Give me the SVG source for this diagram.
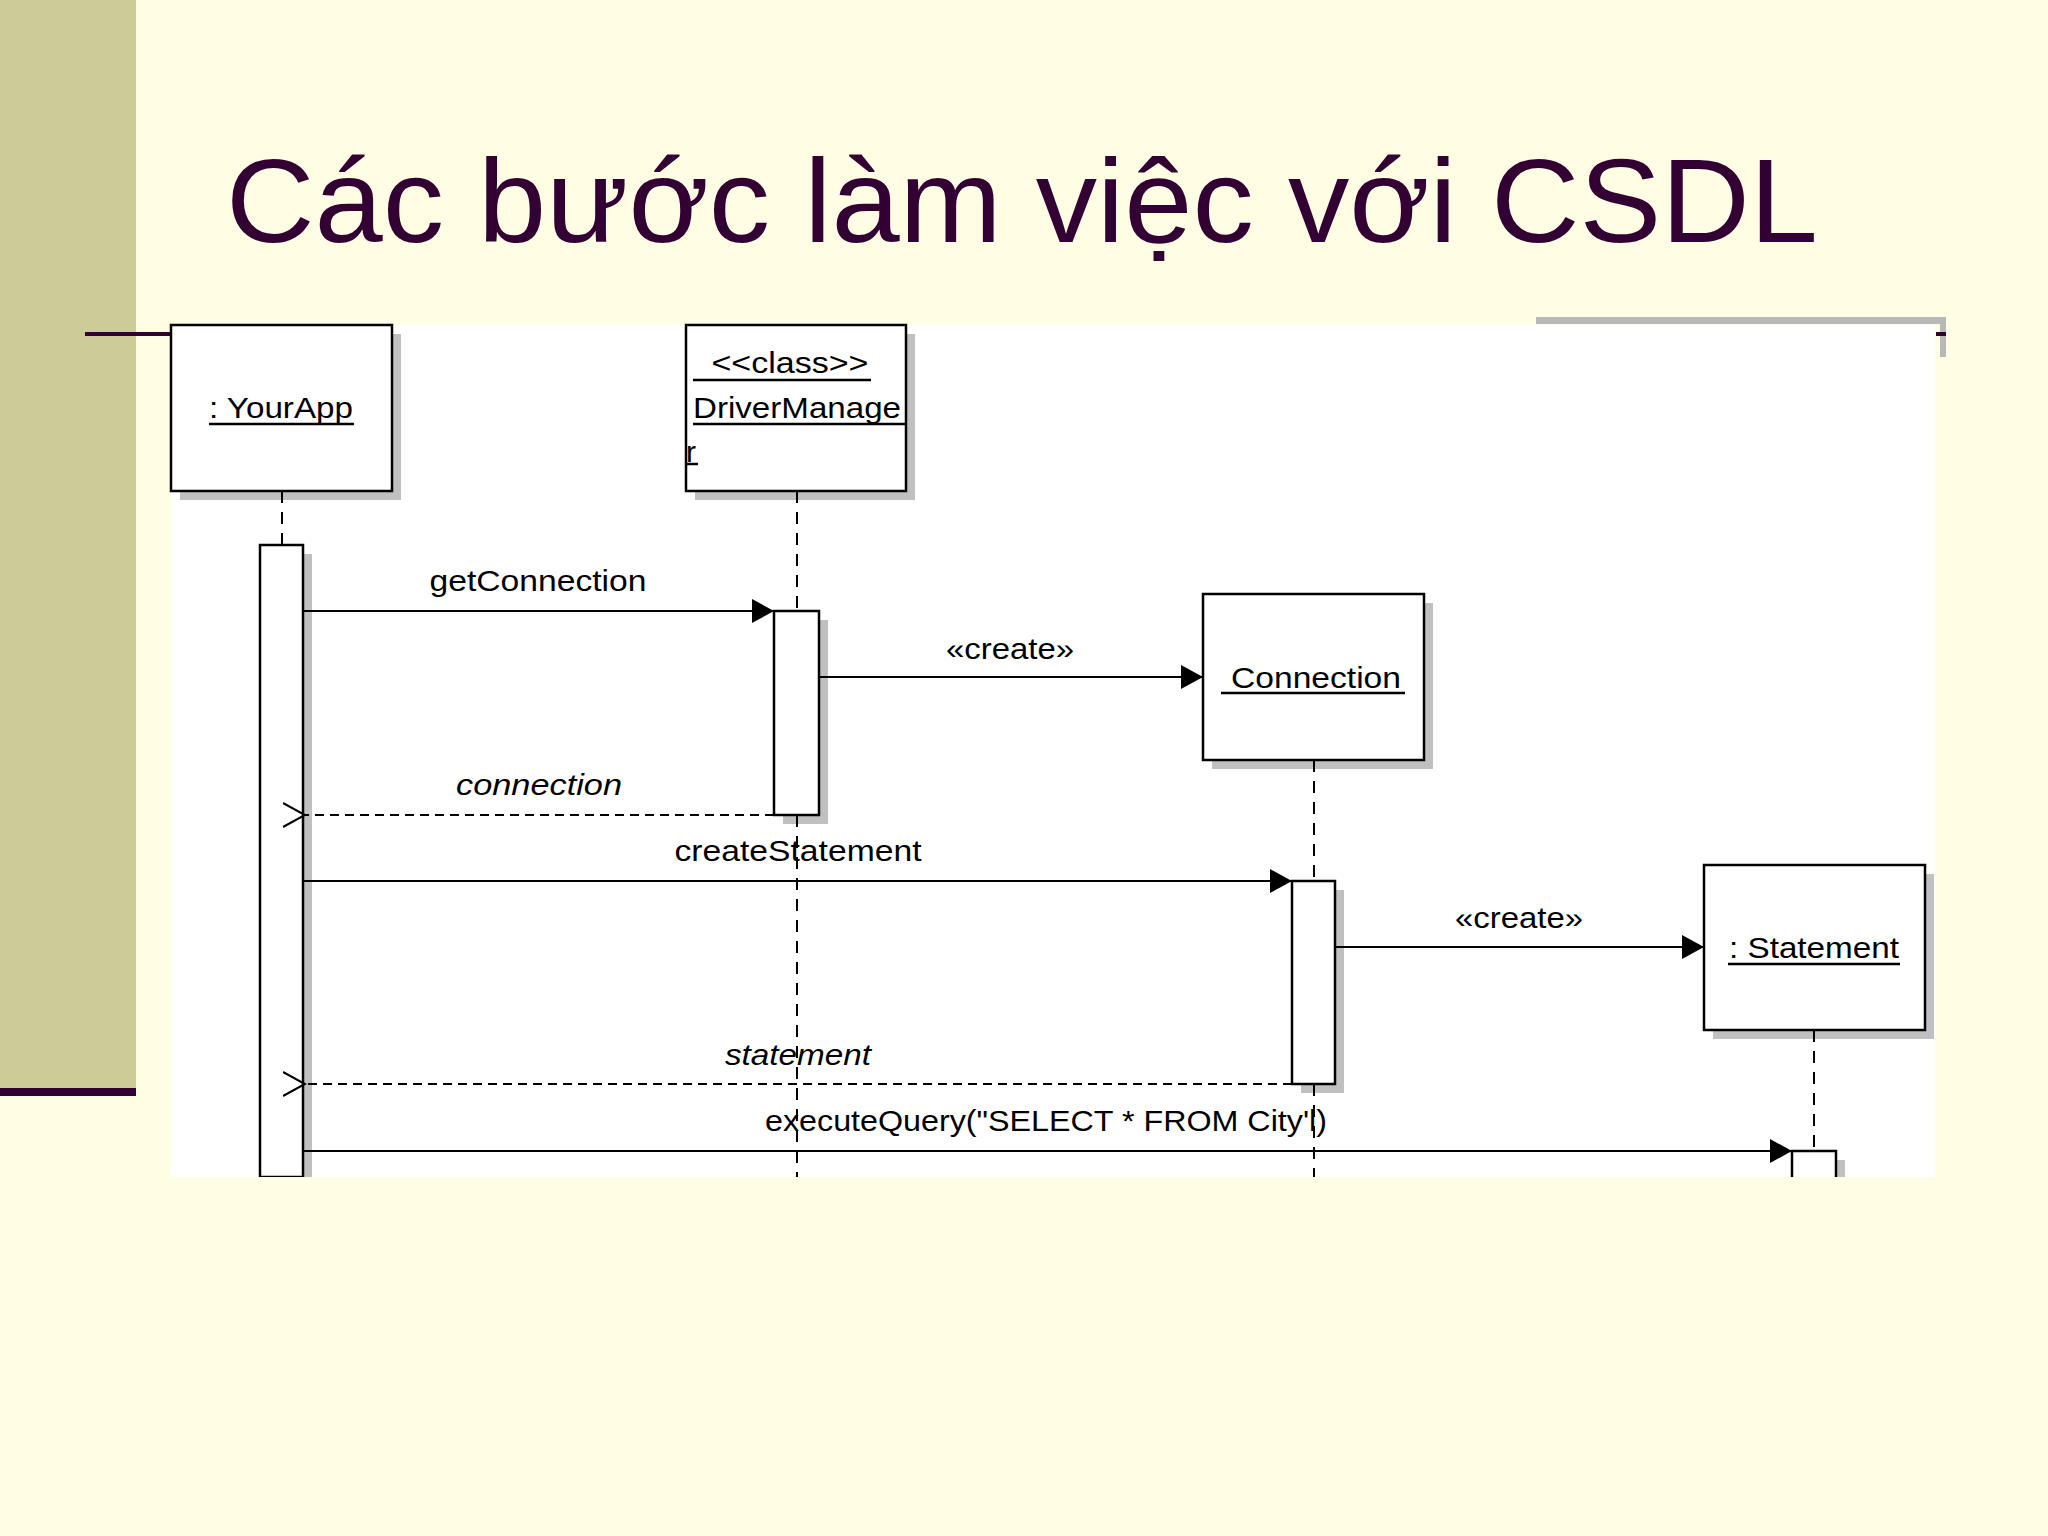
<svg xmlns="http://www.w3.org/2000/svg" width="2048" height="1536" viewBox="0 0 2048 1536">
<defs>
<style>
.box{fill:#fff;stroke:#000;stroke-width:2.5}
.sh{fill:#c0c0c0}
.t{font-family:"Liberation Sans",Arial,sans-serif;font-size:30px;fill:#000}
.life{stroke:#000;stroke-width:2;stroke-dasharray:12,9;fill:none}
.msg{stroke:#000;stroke-width:2.2;fill:none}
.ret{stroke:#000;stroke-width:2;stroke-dasharray:9,6;fill:none}
.ul{stroke:#000;stroke-width:2.5}
</style>
<marker id="fa" markerWidth="24" markerHeight="24" refX="22" refY="12" orient="auto" markerUnits="userSpaceOnUse"><path d="M0,0 L22,12 L0,24 Z" fill="#000"/></marker>
<marker id="oa" markerWidth="24" markerHeight="28" refX="2" refY="14" orient="auto" markerUnits="userSpaceOnUse"><path d="M24,2 L2,14 L24,26" fill="none" stroke="#000" stroke-width="2"/></marker>
</defs>
<rect width="2048" height="1536" fill="#fffde3"/>
<rect x="0" y="0" width="136" height="1088" fill="#cccc99"/>
<rect x="0" y="1088" width="136" height="8" fill="#330033"/>
<text x="226" y="242" font-family="Liberation Sans,Arial,sans-serif" font-size="118" fill="#330033" textLength="1592" lengthAdjust="spacingAndGlyphs">Các bước làm việc với CSDL</text>
<line x1="85" y1="334" x2="175" y2="334" stroke="#330033" stroke-width="4"/>
<rect x="1536" y="317" width="410" height="7" fill="#b8b8b8"/>
<rect x="1940" y="317" width="6" height="40" fill="#b8b8b8"/>
<rect x="1936" y="332" width="10" height="4" fill="#330033"/>
<rect x="171" y="325" width="1764" height="852" fill="#fff"/>

<g id="yourapp">
<rect class="sh" x="180" y="334" width="221" height="166"/>
<rect class="box" x="171" y="325" width="221" height="166"/>
<text class="t" x="281" y="418" text-anchor="middle" textLength="144" lengthAdjust="spacingAndGlyphs">: YourApp</text>
<line class="ul" x1="209" y1="424" x2="354" y2="424"/>
</g>
<g id="yourapp-activation">
<rect class="sh" x="269" y="554" width="43" height="623"/>
<rect class="box" x="260" y="545" width="43" height="632"/>
</g>

<g id="drivermanager">
<rect class="sh" x="695" y="334" width="220" height="166"/>
<rect class="box" x="686" y="325" width="220" height="166"/>
<text class="t" x="790" y="373" text-anchor="middle" textLength="157" lengthAdjust="spacingAndGlyphs">&lt;&lt;class&gt;&gt;</text>
<line class="ul" x1="693" y1="380" x2="871" y2="380"/>
<text class="t" x="693" y="418" textLength="208" lengthAdjust="spacingAndGlyphs">DriverManage</text>
<line class="ul" x1="693" y1="424" x2="906" y2="424"/>
<text class="t" x="686" y="462">r</text>
<line class="ul" x1="686" y1="464" x2="698" y2="464"/>
</g>
<g id="drivermanager-activation">
<rect class="sh" x="783" y="620" width="45" height="204"/>
<rect class="box" x="774" y="611" width="45" height="204"/>
</g>

<g id="connection">
<rect class="sh" x="1212" y="603" width="221" height="166"/>
<rect class="box" x="1203" y="594" width="221" height="166"/>
<text class="t" x="1316" y="688" text-anchor="middle" textLength="170" lengthAdjust="spacingAndGlyphs">Connection</text>
<line class="ul" x1="1221" y1="693" x2="1405" y2="693"/>
</g>
<g id="connection-activation">
<rect class="sh" x="1301" y="890" width="43" height="203"/>
<rect class="box" x="1292" y="881" width="43" height="203"/>
</g>

<g id="statement">
<rect class="sh" x="1713" y="874" width="221" height="165"/>
<rect class="box" x="1704" y="865" width="221" height="165"/>
<text class="t" x="1814" y="958" text-anchor="middle" textLength="170" lengthAdjust="spacingAndGlyphs">: Statement</text>
<line class="ul" x1="1728" y1="964" x2="1900" y2="964"/>
</g>
<g id="statement-activation">
<rect class="sh" x="1801" y="1160" width="44" height="17"/>
<rect class="box" x="1792" y="1151" width="44" height="30"/>
</g>

<g id="connectors">
<line class="life" x1="282" y1="491" x2="282" y2="545"/>
<line class="life" x1="797" y1="491" x2="797" y2="611"/>
<line class="life" x1="797" y1="815" x2="797" y2="1177"/>
<line class="life" x1="1314" y1="760" x2="1314" y2="881"/>
<line class="life" x1="1314" y1="1084" x2="1314" y2="1177"/>
<line class="life" x1="1814" y1="1030" x2="1814" y2="1151"/>
<line class="msg" x1="303" y1="611" x2="774" y2="611" marker-end="url(#fa)"/>
<text class="t" x="538" y="591" text-anchor="middle" textLength="217" lengthAdjust="spacingAndGlyphs">getConnection</text>
<line class="msg" x1="819" y1="677" x2="1203" y2="677" marker-end="url(#fa)"/>
<text class="t" x="1010" y="659" text-anchor="middle" textLength="128" lengthAdjust="spacingAndGlyphs">«create»</text>
<line class="ret" x1="774" y1="815" x2="305" y2="815" marker-end="url(#oa)"/>
<text class="t" x="539" y="795" text-anchor="middle" font-style="italic" textLength="166" lengthAdjust="spacingAndGlyphs">connection</text>
<line class="msg" x1="303" y1="881" x2="1292" y2="881" marker-end="url(#fa)"/>
<text class="t" x="798" y="861" text-anchor="middle" textLength="247" lengthAdjust="spacingAndGlyphs">createStatement</text>
<line class="msg" x1="1335" y1="947" x2="1704" y2="947" marker-end="url(#fa)"/>
<text class="t" x="1519" y="928" text-anchor="middle" textLength="128" lengthAdjust="spacingAndGlyphs">«create»</text>
<line class="ret" x1="1292" y1="1084" x2="305" y2="1084" marker-end="url(#oa)"/>
<text class="t" x="798" y="1065" text-anchor="middle" font-style="italic" textLength="146" lengthAdjust="spacingAndGlyphs">statement</text>
<line class="msg" x1="303" y1="1151" x2="1792" y2="1151" marker-end="url(#fa)"/>
<text class="t" x="1046" y="1131" text-anchor="middle" textLength="562" lengthAdjust="spacingAndGlyphs">executeQuery("SELECT * FROM City'l)</text>
</g>
<rect x="171" y="1177" width="1770" height="20" fill="#fffde3"/>
</svg>
